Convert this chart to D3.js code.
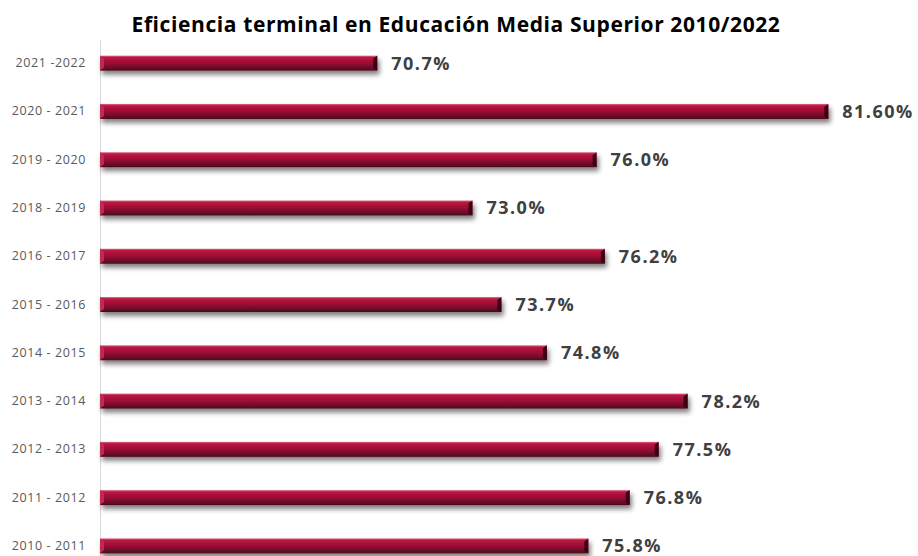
<!DOCTYPE html>
<html>
<head>
<meta charset="utf-8">
<script src="https://cdn.jsdelivr.net/npm/d3@7"></script>
<style>
  body { margin: 0; background: #fff; }
  .graph-title { font-family: "Open Sans", sans-serif; font-weight: 700; font-size: 21px; letter-spacing: 0.6px; fill: #000; text-anchor: middle; }
  .cat-label { font-family: "Open Sans", sans-serif; font-size: 12.5px; letter-spacing: 0.6px; fill: #595959; }
  .val-label { font-family: "Open Sans", sans-serif; font-weight: 700; font-size: 18px; letter-spacing: 1.5px; fill: #404040; }
</style>
</head>
<body>
<svg></svg>
<script>
var periods = ["2021 -2022", "2020 - 2021", "2019 - 2020", "2018 - 2019", "2016 - 2017", "2015 - 2016",
               "2014 - 2015", "2013 - 2014", "2012 - 2013", "2011 - 2012", "2010 - 2011"];
var values = [70.7, 81.6, 76.0, 73.0, 76.2, 73.7, 74.8, 78.2, 77.5, 76.8, 75.8];
var valueLabels = ["70.7%", "81.60%", "76.0%", "73.0%", "76.2%", "73.7%", "74.8%", "78.2%", "77.5%", "76.8%", "75.8%"];

var svgWidth = 918, svgHeight = 556;
var svg = d3.select('svg')
  .attr("width", svgWidth)
  .attr("height", svgHeight);

var data = periods.map((p, i) => ({ period: p, value: values[i], label: valueLabels[i] }));

var x = d3.scaleLinear()
  .domain([64, 82])
  .range([100, 100 + 18 * 41.38]);

var y = d3.scaleBand()
  .domain(periods)
  .range([39, 570])
  .paddingInner(0.69)
  .paddingOuter(0.345);

// gradients / shadow
var defs = svg.append("defs");
var grad = defs.append("linearGradient")
  .attr("id", "barGrad").attr("x1", 0).attr("y1", 0).attr("x2", 0).attr("y2", 1);
grad.append("stop").attr("offset", "0%").attr("stop-color", "#e0708c");
grad.append("stop").attr("offset", "12%").attr("stop-color", "#b8173f");
grad.append("stop").attr("offset", "45%").attr("stop-color", "#a30c37");
grad.append("stop").attr("offset", "70%").attr("stop-color", "#7a0a2c");
grad.append("stop").attr("offset", "100%").attr("stop-color", "#4a0619");

var shadow = defs.append("filter").attr("id", "shadow")
  .attr("x", "-5%").attr("y", "-50%").attr("width", "115%").attr("height", "250%");
shadow.append("feGaussianBlur").attr("in", "SourceAlpha").attr("stdDeviation", 2.4);
shadow.append("feOffset").attr("dx", 2).attr("dy", 4).attr("result", "off");
shadow.append("feComponentTransfer").append("feFuncA").attr("type", "linear").attr("slope", 0.5);
var merge = shadow.append("feMerge");
merge.append("feMergeNode");
merge.append("feMergeNode").attr("in", "SourceGraphic");

// axis line
svg.append("line")
  .attr("x1", 100.5).attr("x2", 100.5)
  .attr("y1", 40).attr("y2", svgHeight)
  .attr("stroke", "#d9d9d9").attr("stroke-width", 1);

// category labels
svg.append("g")
  .attr("transform", "translate(100,0)")
  .call(d3.axisLeft(y).tickSize(0).tickPadding(14))
  .call(g => g.select(".domain").remove())
  .selectAll("text")
  .attr("class", "cat-label")
  .attr("font-family", null).attr("font-size", null);

// bars
var bars = svg.append("g").selectAll("g")
  .data(data)
  .enter()
  .append("g")
  .attr("filter", "url(#shadow)");

bars.append("rect")
  .attr("x", x(64))
  .attr("y", d => y(d.period))
  .attr("width", d => x(d.value) - x(64))
  .attr("height", y.bandwidth())
  .attr("fill", "url(#barGrad)");

// bevel at the bar end
bars.append("path")
  .attr("d", d => {
    var x1 = x(d.value), y0 = y(d.period), h = y.bandwidth();
    return `M${x1 - 4},${y0 + 3} L${x1},${y0} L${x1},${y0 + h} L${x1 - 4},${y0 + h - 3} Z`;
  })
  .attr("fill", "#3a0413");

// bevel at the bar start
bars.append("path")
  .attr("d", d => {
    var x0 = x(64), y0 = y(d.period), h = y.bandwidth();
    return `M${x0},${y0} L${x0 + 4},${y0 + 3} L${x0 + 4},${y0 + h - 3} L${x0},${y0 + h} Z`;
  })
  .attr("fill", "#c02a50");

// value labels
svg.append("g").selectAll("text")
  .data(data)
  .enter()
  .append("text")
  .attr("class", "val-label")
  .attr("x", d => x(d.value) + 14)
  .attr("y", d => y(d.period) + y.bandwidth() / 2)
  .attr("dy", "0.36em")
  .text(d => d.label);

// title
svg.append("text")
  .attr("class", "graph-title")
  .attr("x", 456)
  .attr("y", 32)
  .text("Eficiencia terminal en Educación Media Superior 2010/2022");
</script>
</body>
</html>
